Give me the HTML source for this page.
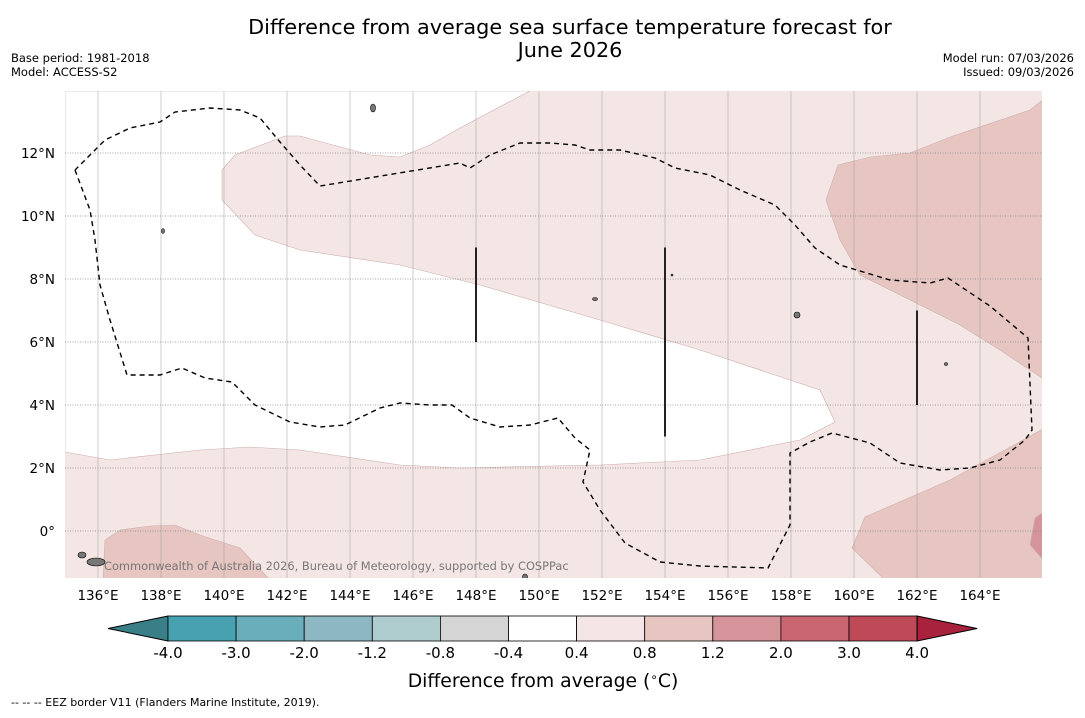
<!DOCTYPE html>
<html><head><meta charset="utf-8">
<style>
body{margin:0;background:#fff;font-family:"Liberation Sans","DejaVu Sans",sans-serif;}
svg text{font-family:"DejaVu Sans","Liberation Sans",sans-serif;}
</style></head>
<body>
<svg id="chart" width="1085" height="713" viewBox="0 0 1085 713" xmlns="http://www.w3.org/2000/svg">
<rect width="1085" height="713" fill="#fff"/>
<text x="570" y="34" font-size="20.8" text-anchor="middle">Difference from average sea surface temperature forecast for</text>
<text x="570" y="57" font-size="20.8" text-anchor="middle">June 2026</text>
<text x="11" y="62" font-size="11.5">Base period: 1981-2018</text>
<text x="11" y="76" font-size="11.5">Model: ACCESS-S2</text>
<text x="1074" y="62" font-size="11.5" text-anchor="end">Model run: 07/03/2026</text>
<text x="1074" y="76" font-size="11.5" text-anchor="end">Issued: 09/03/2026</text>
<defs><clipPath id="mapclip"><rect x="65" y="91" width="977" height="487"/></clipPath></defs>
<g id="map" clip-path="url(#mapclip)"></g>
<g id="axes"></g>
<g id="cbar"></g>
<text x="543" y="687" font-size="18.8" text-anchor="middle">Difference from average (<tspan font-size="12" dy="-6">∘</tspan><tspan dy="6">C)</tspan></text>
<text x="11" y="706" font-size="11">--  --  -- EEZ border V11 (Flanders Marine Institute, 2019).</text>
</svg>
<script>
const levels=["-4.0","-3.0","-2.0","-1.2","-0.8","-0.4","0.4","0.8","1.2","2.0","3.0","4.0"];
const binColors=["#47a1b1","#6aaebb","#8db8c3","#aecbce","#d5d5d5","#ffffff","#f4e6e5","#e7c6c2","#d5939a","#c96672","#be4957"];
const lowExtColor="#3a7f88", highExtColor="#a8213d";
const lonTicks=[136,138,140,142,144,146,148,150,152,154,156,158,160,162,164];
const latTicks=[0,2,4,6,8,10,12];
const NS="http://www.w3.org/2000/svg";
const X=lon=>98+(lon-136)*31.5;
const Y=lat=>531-lat*31.5;
const PX=p=>136+(p-98)/31.5, PY=p=>(531-p)/31.5;
function mk(tag,attrs,parent){const e=document.createElementNS(NS,tag);for(const k in attrs)e.setAttribute(k,attrs[k]);parent.appendChild(e);return e;}
function pts(arr){return arr.map(p=>[PX(p[0]),PY(p[1])]);}
const whiteRegion=pts([[65,91],[530,91],[490,112],[460,128],[430,145],[400,157],[370,155],[300,136],[285,136],[235,155],[222,170],[222,200],[255,235],[300,250],[400,265],[480,285],[600,320],[700,350],[790,380],[820,390],[835,422],[800,440],[700,460],[600,465],[460,468],[400,465],[300,450],[250,447],[200,450],[110,460],[65,452]]);
const neRegion=pts([[826,200],[838,165],[870,157],[910,153],[950,137],[1030,110],[1045,98],[1045,380],[1000,350],[960,325],[920,305],[890,290],[860,275],[840,240]]);
const seRegion=pts([[852,548],[865,517],[950,480],[1045,428],[1045,580],[885,580]]);
const swRegion=pts([[103,580],[105,540],[120,530],[150,526],[175,525],[200,535],[240,548],[270,580]]);
const seDark=pts([[1030,545],[1035,518],[1045,511],[1045,562]]);
const eez=pts([[75,170],[90,210],[95,240],[100,285],[110,320],[127,375],[160,375],[182,368],[205,378],[232,382],[255,405],[290,422],[320,427],[345,425],[380,408],[400,403],[430,405],[452,405],[470,418],[500,427],[530,425],[558,418],[575,438],[590,450],[583,482],[600,510],[625,543],[660,562],[700,566],[768,568],[790,525],[790,453],[810,442],[832,433],[870,443],[900,463],[940,470],[970,468],[1000,460],[1025,440],[1032,430],[1028,338],[990,306],[948,278],[930,283],[890,280],[840,265],[815,248],[795,225],[775,205],[740,190],[710,175],[675,168],[655,158],[620,150],[590,150],[575,145],[550,143],[520,143],[490,155],[470,168],[460,163],[320,186],[300,165],[280,142],[260,118],[240,110],[210,108],[175,112],[160,122],[130,128],[105,140],[90,155],[75,170]]);
const bars=[[148,6,9],[154,3,9],[162,4,7]];
const map=document.getElementById('map');
const bg=mk('rect',{x:65,y:91,width:977,height:487,fill:"#f4e6e5"},map);


function poly(arr,fill,name){const p=mk('polygon',{points:arr.map(a=>X(a[0])+","+Y(a[1])).join(" "),fill:fill,stroke:"#cbb0ad","stroke-width":0.6},map);

}
poly(whiteRegion,"#ffffff","anomaly-neutral-region");
poly(neRegion,"#e7c6c2","anomaly-0.8-1.2-northeast");
poly(seRegion,"#e7c6c2","anomaly-0.8-1.2-southeast");
poly(swRegion,"#e7c6c2","anomaly-0.8-1.2-southwest");
poly(seDark,"#d5939a","anomaly-1.2-2.0-southeast");
lonTicks.forEach(l=>{const g=mk('line',{x1:X(l),x2:X(l),y1:91,y2:578,stroke:"#999","stroke-width":0.8,"stroke-opacity":0.6},map);

});
latTicks.forEach(l=>{const g=mk('line',{x1:65,x2:1042,y1:Y(l),y2:Y(l),stroke:"#888","stroke-width":0.8,"stroke-dasharray":"1,1.5"},map);

});
const e=mk('polyline',{points:eez.map(a=>X(a[0])+","+Y(a[1])).join(" "),fill:"none",stroke:"#000","stroke-width":1.4,"stroke-dasharray":"5,4"},map);


bars.forEach(b=>{const l=mk('line',{x1:X(b[0]),x2:X(b[0]),y1:Y(b[2]),y2:Y(b[1]),stroke:"#222","stroke-width":2},map);

});
[[373,108,2.5,4],[163,231,1.5,2.5],[797,315,3,3],[946,364,1.5,1.5],[595,299,2.5,1.5],[96,562,9,4],[82,555,4,3],[672,275,1,1],[525,577,2.5,3]].forEach(i=>{const c=mk('ellipse',{cx:i[0],cy:i[1],rx:i[2],ry:i[3],fill:"#777",stroke:"#000","stroke-width":0.6},map);

});
const cr=mk('text',{x:104,y:570,"font-size":11.4,fill:"#777"},map);cr.textContent="Commonwealth of Australia 2026, Bureau of Meteorology, supported by COSPPac";


const axes=document.getElementById('axes');
lonTicks.forEach(l=>{const t=mk('text',{x:X(l),y:600,"font-size":13.5,"text-anchor":"middle"},axes);t.textContent=l+"°E";

});
latTicks.forEach(l=>{const t=mk('text',{x:55,y:Y(l)+5,"font-size":13.5,"text-anchor":"end"},axes);t.textContent=l===0?"0°":l+"°N";

});
const cb=document.getElementById('cbar');
const c0=168,cw=68.1,cy0=616,ch=25;
mk('polygon',{points:`${c0},${cy0} ${c0},${cy0+ch} 108,${cy0+ch/2}`,fill:lowExtColor,stroke:"#000","stroke-width":1},cb);
binColors.forEach((c,i)=>{const r=mk('rect',{x:c0+i*cw,y:cy0,width:cw,height:ch,fill:c,stroke:"#000","stroke-width":0.8},cb);

});
const cend=c0+binColors.length*cw;
mk('polygon',{points:`${cend},${cy0} ${cend},${cy0+ch} ${cend+60},${cy0+ch/2}`,fill:highExtColor,stroke:"#000","stroke-width":1},cb);
levels.forEach((l,i)=>{const t=mk('text',{x:c0+i*cw,y:658,"font-size":15,"text-anchor":"middle"},cb);t.textContent=l;

});
</script>
</body></html>
